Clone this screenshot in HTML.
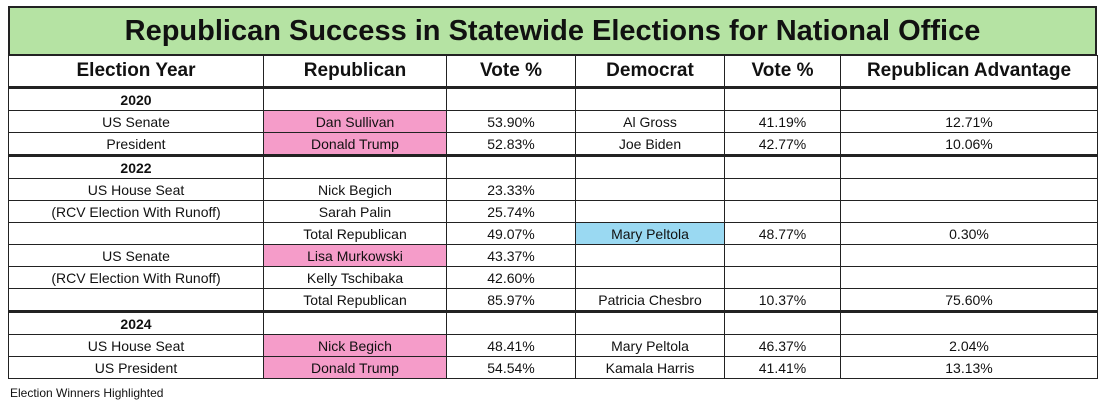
<!DOCTYPE html><html><head><style>
body{margin:0;width:1100px;height:404px;background:#fff;font-family:"Liberation Sans",Arial,sans-serif;position:relative;overflow:hidden}
.t{position:absolute;left:8px;top:6px;width:1089px;height:50px;background:#b5e3a3;border:2px solid #222;box-sizing:border-box;text-align:center;font-weight:bold;font-size:29px;line-height:46px;color:#111}
table{position:absolute;left:8px;top:55px;border-collapse:collapse;width:1089px;table-layout:fixed}
td{border:1.5px solid #222;text-align:center;font-size:14px;color:#111;padding:0;height:21px;line-height:20px}
tr.h td{font-weight:bold;font-size:19px;height:30px}
tr.y td:first-child{font-weight:bold}
tr.tk td{border-top:3px solid #222}
.p{background:#f59cc9}.b{background:#9ad9f2}
.f{position:absolute;left:10px;top:386px;font-size:12px;color:#111}
</style></head><body>
<div class="t">Republican Success in Statewide Elections for National Office</div>
<table>
<colgroup><col style="width:255px"><col style="width:183px"><col style="width:129px"><col style="width:149px"><col style="width:116px"><col style="width:257px"></colgroup>
<tr class="h"><td>Election Year</td><td>Republican</td><td>Vote %</td><td>Democrat</td><td>Vote %</td><td>Republican Advantage</td></tr>
<tr class="y tk"><td>2020</td><td></td><td></td><td></td><td></td><td></td></tr>
<tr><td>US Senate</td><td class="p">Dan Sullivan</td><td>53.90%</td><td>Al Gross</td><td>41.19%</td><td>12.71%</td></tr>
<tr><td>President</td><td class="p">Donald Trump</td><td>52.83%</td><td>Joe Biden</td><td>42.77%</td><td>10.06%</td></tr>
<tr class="y tk"><td>2022</td><td></td><td></td><td></td><td></td><td></td></tr>
<tr><td>US House Seat</td><td>Nick Begich</td><td>23.33%</td><td></td><td></td><td></td></tr>
<tr><td>(RCV Election With Runoff)</td><td>Sarah Palin</td><td>25.74%</td><td></td><td></td><td></td></tr>
<tr><td></td><td>Total Republican</td><td>49.07%</td><td class="b">Mary Peltola</td><td>48.77%</td><td>0.30%</td></tr>
<tr><td>US Senate</td><td class="p">Lisa Murkowski</td><td>43.37%</td><td></td><td></td><td></td></tr>
<tr><td>(RCV Election With Runoff)</td><td>Kelly Tschibaka</td><td>42.60%</td><td></td><td></td><td></td></tr>
<tr><td></td><td>Total Republican</td><td>85.97%</td><td>Patricia Chesbro</td><td>10.37%</td><td>75.60%</td></tr>
<tr class="y tk"><td>2024</td><td></td><td></td><td></td><td></td><td></td></tr>
<tr><td>US House Seat</td><td class="p">Nick Begich</td><td>48.41%</td><td>Mary Peltola</td><td>46.37%</td><td>2.04%</td></tr>
<tr><td>US President</td><td class="p">Donald Trump</td><td>54.54%</td><td>Kamala Harris</td><td>41.41%</td><td>13.13%</td></tr>
</table>
<div class="f">Election Winners Highlighted</div>
</body></html>
